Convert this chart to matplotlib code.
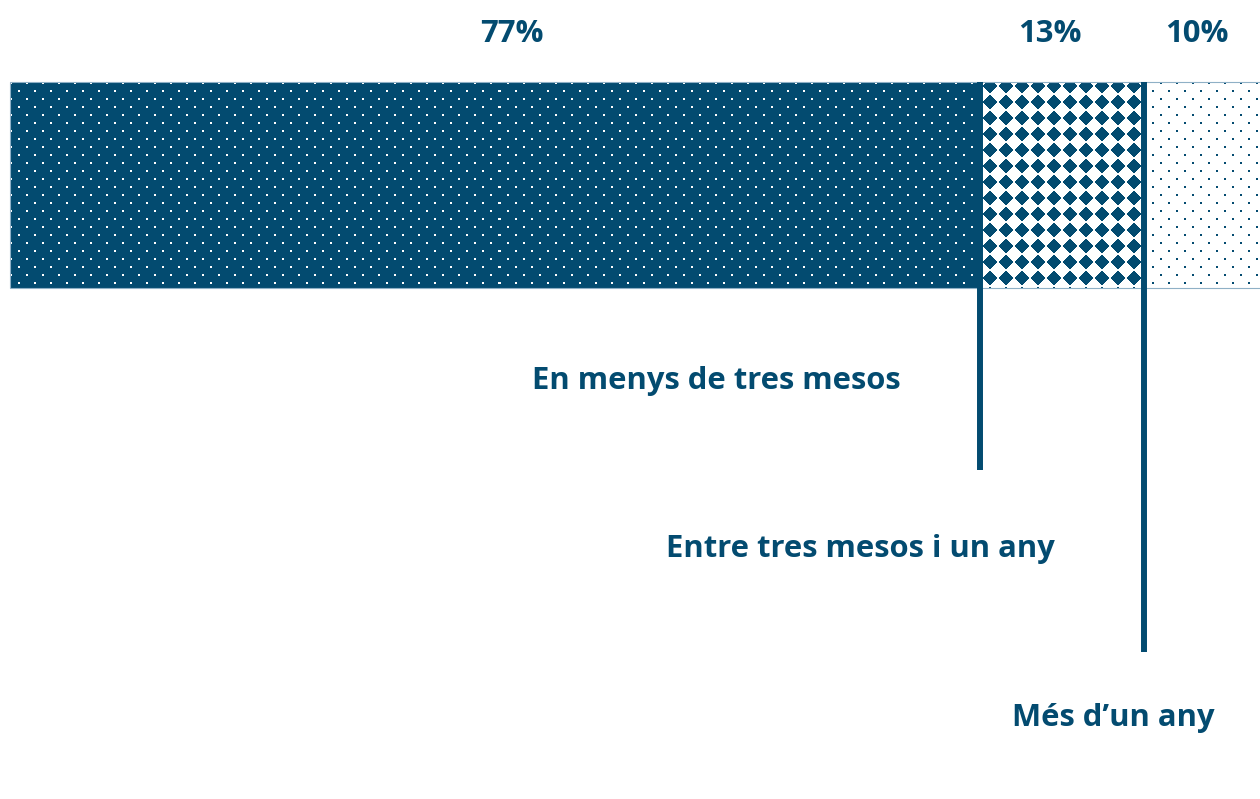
import numpy as np
import matplotlib
matplotlib.use("Agg")
import matplotlib.pyplot as plt

# ---- data ----
categories = ["En menys de tres mesos", "Entre tres mesos i un any", "Més d\u2019un any"]
values = [77, 13, 10]
pct_labels = ["77%", "13%", "10%"]

DARK = "#034b70"
W, H, DPI = 1260, 799, 100

fig = plt.figure(figsize=(W / DPI, H / DPI), dpi=DPI)
ax = fig.add_axes([0, 0, 1, 1])
ax.set_axis_off()

# axis scale: pixel x = 10 + v*SX ; bar height 1 -> 206 px, centre at pixel 185
SX = 12.6
SY = 206.0
YC = 185.0
ax.set_xlim(-10 / SX, (W - 10) / SX)
ax.set_ylim(-(H - YC) / SY, YC / SY)

def py(p):
    return (YC - p) / SY

def px(p):
    return (p - 10) / SX

lefts = np.concatenate([[0], np.cumsum(values)[:-1]])
bars = ax.barh([0] * len(values), values, left=lefts, height=1.0,
               facecolor="none", edgecolor="#8fb0c6", linewidth=0.8, zorder=2)

# ---- pixel patterns ----
def pattern(kind, h, w):
    yy, xx = np.mgrid[0:h, 0:w]
    img = np.ones((h, w, 3))
    dark = np.array(matplotlib.colors.to_rgb(DARK))
    white = np.array([1.0, 1.0, 1.0])
    if kind in ("dots_dark", "dots_light"):
        row = yy // 8
        mask = ((yy % 8) < 2) & (((xx + (row % 2) * 8) % 16) < 2)
        if kind == "dots_dark":
            img[:] = dark
            img[mask] = white
        else:
            img[:] = white
            img[mask] = dark
    else:
        # square grid of stepped diamonds, pitch 16 px, 14 px across
        xs = (xx - 2) % 16      # centre between pixel 15 and 0 of each cell
        ys = (yy - 12) % 16
        i = np.where(xs < 8, xs, 15 - xs)   # 0..7 distance index from centre
        j = np.where(ys < 8, ys, 15 - ys)
        i = 7 - i
        j = 7 - j
        mask = (i + j) <= 6
        img[:] = white
        img[mask] = dark
    return img

kinds = ["dots_dark", "diamonds", "dots_light"]
for b, kind in zip(bars, kinds):
    x0, w = b.get_x(), b.get_width()
    y0, hgt = b.get_y(), b.get_height()
    pw = max(1, int(round(w * SX)))
    ph = int(round(hgt * SY))
    im = ax.imshow(pattern(kind, ph, pw), extent=(x0, x0 + w, y0, y0 + hgt),
                   origin="upper", interpolation="nearest", aspect="auto", zorder=1.5)
    im.set_clip_path(b)

# restore limits after imshow
ax.set_xlim(-10 / SX, (W - 10) / SX)
ax.set_ylim(-(H - YC) / SY, YC / SY)

# ---- leader lines ----
bounds = np.cumsum(values)[:-1]
line_ends = [470, 652]
for bx, pe in zip(bounds, line_ends):
    ax.plot([bx, bx], [0.5, py(pe)], color=DARK, lw=4.3, solid_capstyle="butt", zorder=3)

FONT = "Open Sans"
FS = 22.3

# percent labels
pct_x = [512, 1050, 1197]
for lab, xp in zip(pct_labels, pct_x):
    ax.text(px(xp), py(42), lab, ha="center", va="baseline", fontsize=FS,
            fontweight="bold", color=DARK, family=FONT)

# category labels
cat_x = [716, 860, 1113.5]
cat_base = [389, 557.5, 726]
for lab, xp, yp in zip(categories, cat_x, cat_base):
    ax.text(px(xp), py(yp), lab, ha="center", va="baseline", fontsize=FS,
            fontweight="bold", color=DARK, family=FONT)

fig.savefig("out.png", dpi=DPI)
